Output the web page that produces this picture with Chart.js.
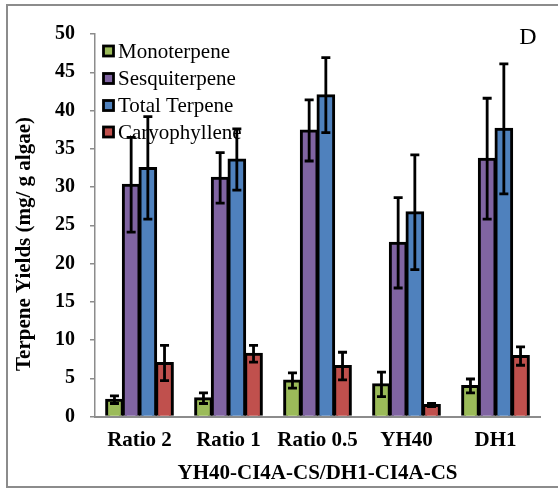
<!DOCTYPE html>
<html>
<head>
<meta charset="utf-8">
<script src="https://cdn.jsdelivr.net/npm/chart.js@4"></script>
<style>
    html, body { margin: 0; padding: 0; background: #fff; }
    #wrap { position: relative; width: 558px; height: 491px; }
    #frame {
        position: absolute; left: 6px; top: 4px; width: 560px; height: 484px;
        border: 2px solid #8c8c8c; box-sizing: border-box;
    }
    canvas { position: absolute; left: 0; top: 0; }
</style>
</head>
<body>
<div id="wrap">
    <div id="frame"></div>
    <canvas id="terpChart" width="558" height="491"></canvas>
</div>
<script>
const categories = ["Ratio 2", "Ratio 1", "Ratio 0.5", "YH40", "DH1"];
const seriesNames = ["Monoterpene", "Sesquiterpene", "Total Terpene", "Caryophyllene"];
const seriesColors = ["#9BBB59", "#8064A2", "#4F81BD", "#C0504D"];

const monoterpene = [2.2, 2.4, 4.7, 4.2, 4.0];
const sesquiterpene = [30.3, 31.2, 37.4, 22.7, 33.7];
const totalTerpene = [32.5, 33.6, 42.0, 26.7, 37.6];
const caryophyllene = [7.0, 8.2, 6.6, 1.5, 7.9];

const monoterpeneErr = [0.5, 0.7, 1.0, 1.6, 0.9];
const sesquiterpeneErr = [6.2, 3.3, 4.0, 5.9, 7.9];
const totalTerpeneErr = [6.7, 4.0, 4.9, 7.5, 8.5];
const caryophylleneErr = [2.3, 1.1, 1.8, 0.2, 1.2];

const yTicks = [0, 5, 10, 15, 20, 25, 30, 35, 40, 45, 50];

const serif = "'Liberation Serif', 'Times New Roman', serif";

const allValues = [monoterpene, sesquiterpene, totalTerpene, caryophyllene];
const allErrors = [monoterpeneErr, sesquiterpeneErr, totalTerpeneErr, caryophylleneErr];

// error bars with caps, drawn over the bars
const errorBars = {
    id: "errorBars",
    afterDatasetsDraw(chart) {
        const ctx = chart.ctx;
        const y = chart.scales.y;
        ctx.save();
        ctx.strokeStyle = "#000";
        ctx.lineWidth = 2.8;
        chart.data.datasets.forEach((ds, i) => {
            const meta = chart.getDatasetMeta(i);
            meta.data.forEach((bar, j) => {
                const v = ds.data[j];
                const e = allErrors[i][j];
                const top = y.getPixelForValue(v + e);
                const bot = y.getPixelForValue(Math.max(v - e, 0));
                const cap = 4.5;
                ctx.beginPath();
                ctx.moveTo(bar.x, top);
                ctx.lineTo(bar.x, bot);
                ctx.moveTo(bar.x - cap, top);
                ctx.lineTo(bar.x + cap, top);
                ctx.moveTo(bar.x - cap, bot);
                ctx.lineTo(bar.x + cap, bot);
                ctx.stroke();
            });
        });
        ctx.restore();
    }
};

// legend inside the plot, y title and panel letter
const extras = {
    id: "extras",
    afterDraw(chart) {
        const ctx = chart.ctx;
        const area = chart.chartArea;
        ctx.save();

        const rows = [51, 78.5, 105.5, 132];
        ctx.font = "21px " + serif;
        ctx.textBaseline = "middle";
        ctx.textAlign = "left";
        seriesNames.forEach((name, i) => {
            const bx = area.left + 8.5;
            const by = rows[i] - 5;
            ctx.fillStyle = seriesColors[i];
            ctx.fillRect(bx, by, 10, 10);
            ctx.strokeStyle = "#000";
            ctx.lineWidth = 2.8;
            ctx.strokeRect(bx, by, 10, 10);
            ctx.fillStyle = "#000";
            ctx.fillText(name, area.left + 23, rows[i] + 1);
        });

        ctx.font = "24px " + serif;
        ctx.textAlign = "center";
        ctx.fillText("D", 528, 38);

        ctx.translate(25, 244);
        ctx.rotate(-Math.PI / 2);
        ctx.font = "bold 21px " + serif;
        ctx.fillText("Terpene Yields (mg/ g algae)", 0, 0);
        ctx.restore();
    }
};

new Chart(document.getElementById("terpChart"), {
    type: "bar",
    data: {
        labels: categories,
        datasets: seriesNames.map((name, i) => ({
            label: name,
            data: allValues[i],
            backgroundColor: seriesColors[i],
            borderColor: "#000",
            borderWidth: 3,
            inflateAmount: 1,
            categoryPercentage: 0.75,
            barPercentage: 1
        }))
    },
    options: {
        responsive: false,
        animation: false,
        events: [],
        layout: { padding: { left: 0, top: 34, right: 18, bottom: 0 } },
        plugins: {
            legend: { display: false },
            tooltip: { enabled: false }
        },
        scales: {
            x: {
                afterFit(scale) { scale.height = 74.5; },
                grid: { display: false, drawTicks: false },
                border: { display: true, color: "#8c8c8c", width: 2 },
                ticks: {
                    color: "#000",
                    padding: 11,
                    font: { family: serif, size: 21, weight: "bold" }
                },
                title: {
                    display: true,
                    text: "YH40-CI4A-CS/DH1-CI4A-CS",
                    color: "#000",
                    padding: { top: 0, bottom: 4.5 },
                    font: { family: serif, size: 21, weight: "bold" }
                }
            },
            y: {
                min: 0,
                max: 50,
                afterFit(scale) { scale.width = 95; },
                afterBuildTicks(scale) { scale.ticks = yTicks.map(v => ({ value: v })); },
                grid: {
                    drawOnChartArea: false,
                    drawTicks: true,
                    tickLength: 5,
                    color: "#8c8c8c",
                    lineWidth: 1.5
                },
                border: { display: true, color: "#8c8c8c", width: 1.5 },
                ticks: {
                    color: "#000",
                    padding: 15,
                    font: { family: serif, size: 20, weight: "bold" }
                }
            }
        }
    },
    plugins: [errorBars, extras]
});
</script>
</body>
</html>
